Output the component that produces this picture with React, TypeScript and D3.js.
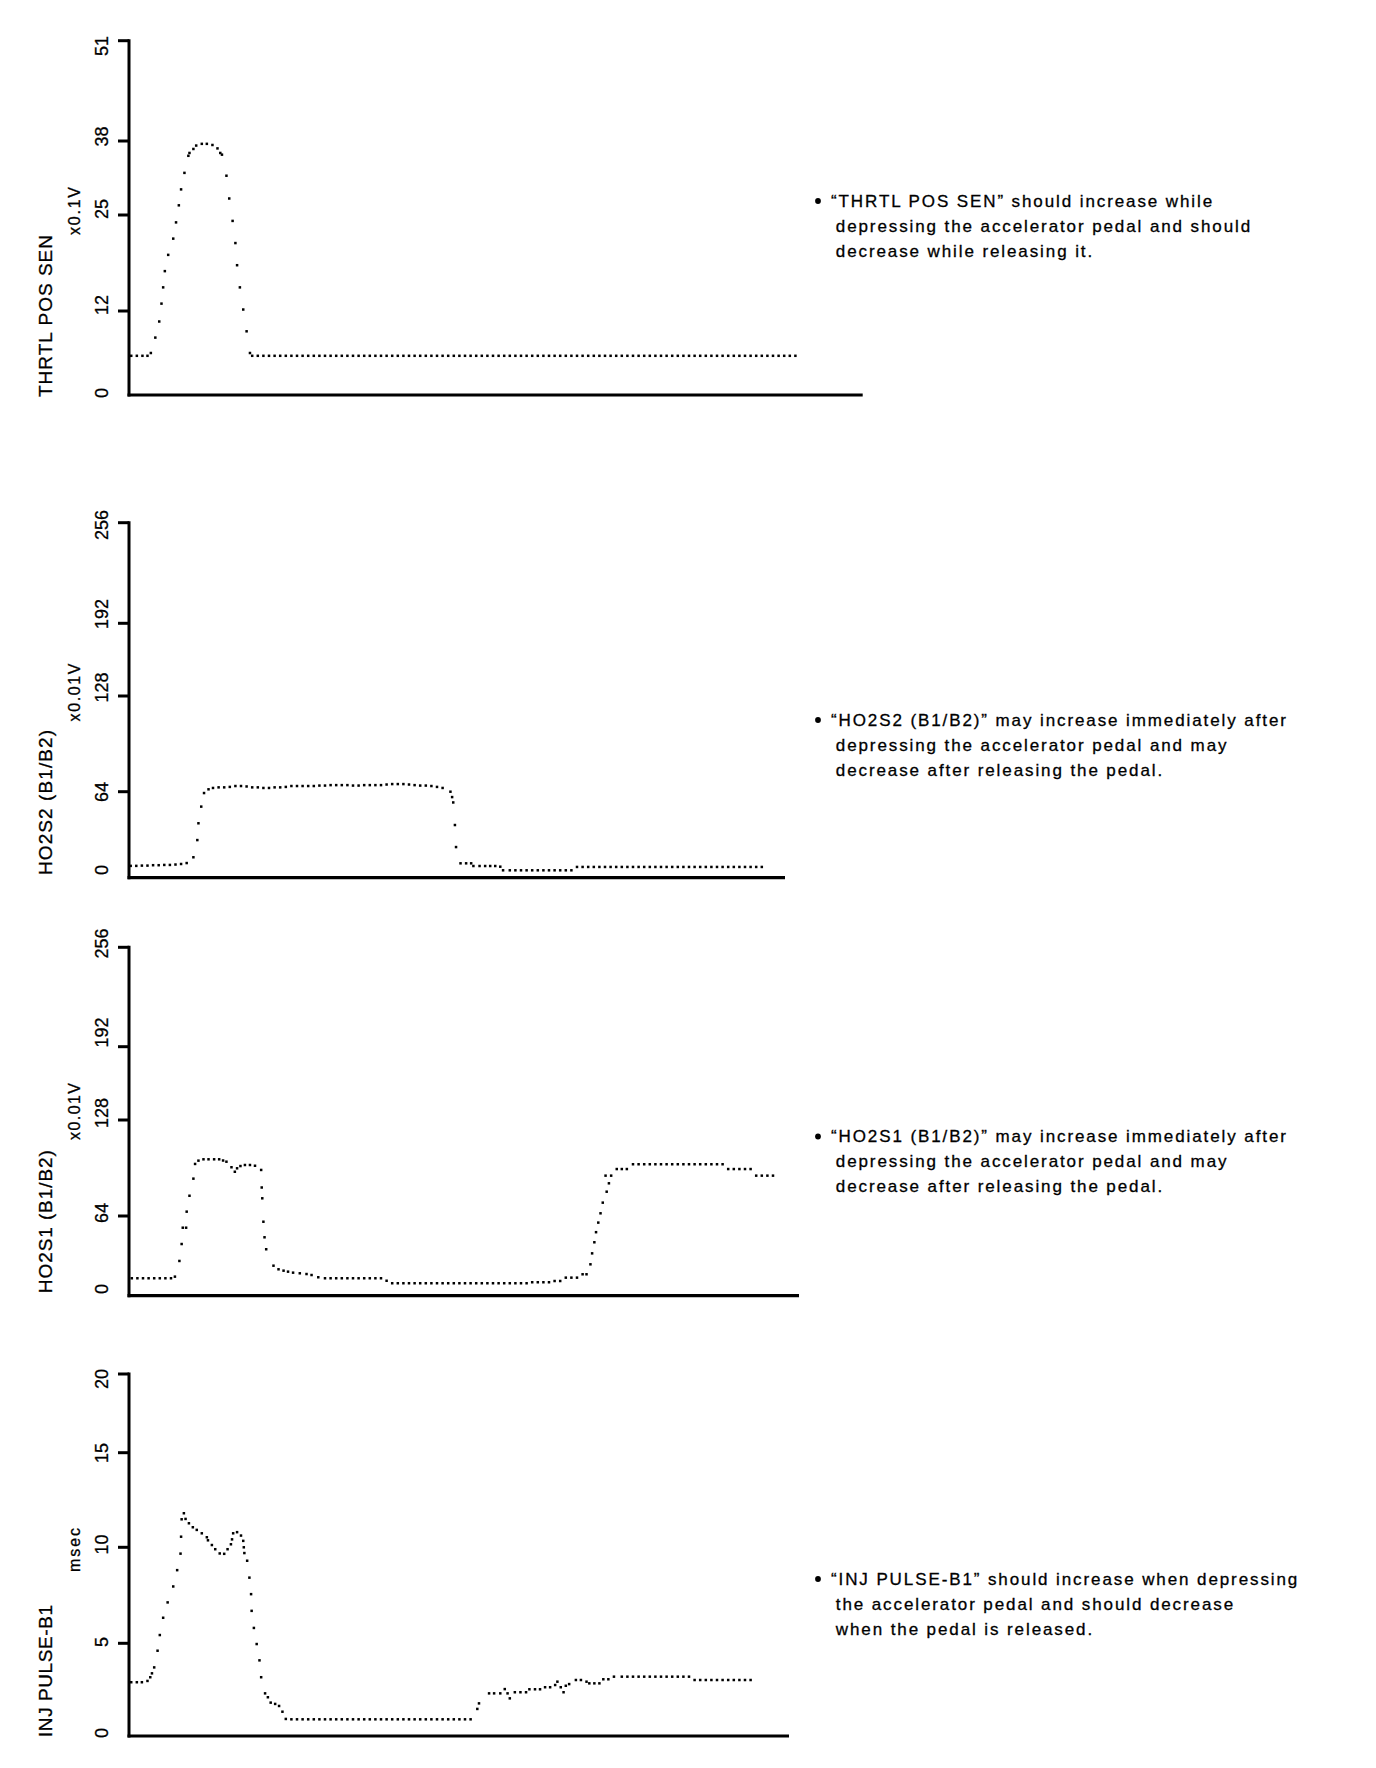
import React from 'react';
import * as d3 from 'd3';

// ---------------- DATA ----------------
// time in sample units, values in the panel's unit
const thrtlTicks = [0, 12, 25, 38, 51];
const ho2Ticks = [0, 64, 128, 192, 256];
const injTicks = [0, 5, 10, 15, 20];

const thrtlTime = [
  0.4, 1.4, 2.4, 3.3, 3.9, 4.7, 5.4, 5.8, 6.1, 6.4, 7.0, 7.9, 8.4, 8.9, 9.3, 9.9, 10.6, 10.8, 11.5, 12.0,
  13.0, 13.9, 14.9, 15.8, 16.3, 16.6, 17.4, 17.9, 18.5, 19.0, 19.3, 19.8, 20.4, 21.0, 21.6,
  22, 23, 24, 25, 26, 27, 28, 29, 30, 31, 32, 33, 34, 35,
  36, 37, 38, 39, 40, 41, 42, 43, 44, 45, 46, 47, 48, 49,
  50, 51, 52, 53, 54, 55, 56, 57, 58, 59, 60, 61, 62, 63,
  64, 65, 66, 67, 68, 69, 70, 71, 72, 73, 74, 75, 76, 77,
  78, 79, 80, 81, 82, 83, 84, 85, 86, 87, 88, 89, 90, 91,
  92, 93, 94, 95, 96, 97, 98, 99, 100, 101, 102, 103, 104, 105,
  106, 107, 108, 109, 110, 111, 112, 113, 114, 115, 116, 117, 118, 119,
];
const thrtlValue = [
  5.6, 5.6, 5.6, 5.6, 6.0, 8.2, 10.5, 13.0, 15.2, 17.4, 19.6, 21.8, 24.0, 26.7, 29.5, 32.4, 35.4, 35.9, 36.6, 37.2,
  37.5, 37.5, 37.3, 36.7, 35.9, 35.6, 31.9, 27.9, 24.2, 21.2, 18.2, 15.2, 12.2, 9.1, 6.0,
  5.6, 5.6, 5.6, 5.6, 5.6, 5.6, 5.6, 5.6, 5.6, 5.6, 5.6, 5.6, 5.6, 5.6,
  5.6, 5.6, 5.6, 5.6, 5.6, 5.6, 5.6, 5.6, 5.6, 5.6, 5.6, 5.6, 5.6, 5.6,
  5.6, 5.6, 5.6, 5.6, 5.6, 5.6, 5.6, 5.6, 5.6, 5.6, 5.6, 5.6, 5.6, 5.6,
  5.6, 5.6, 5.6, 5.6, 5.6, 5.6, 5.6, 5.6, 5.6, 5.6, 5.6, 5.6, 5.6, 5.6,
  5.6, 5.6, 5.6, 5.6, 5.6, 5.6, 5.6, 5.6, 5.6, 5.6, 5.6, 5.6, 5.6, 5.6,
  5.6, 5.6, 5.6, 5.6, 5.6, 5.6, 5.6, 5.6, 5.6, 5.6, 5.6, 5.6, 5.6, 5.6,
  5.6, 5.6, 5.6, 5.6, 5.6, 5.6, 5.6, 5.6, 5.6, 5.6, 5.6, 5.6, 5.6, 5.6,
];

const ho2s2Time = [
  0.3, 1.3, 2.3, 3.3, 4.3, 5.3, 6.3, 7.3, 8.3, 9.3, 10.3,
  11.5, 12.2, 12.4, 12.9, 13.4, 14.2,
  15, 16, 17, 18, 19, 20, 21, 22, 23, 24, 25, 26, 27, 28,
  29, 30, 31, 32, 33, 34, 35, 36, 37, 38, 39, 40, 41, 42,
  43, 44, 45, 46, 47, 48, 49, 50, 51, 52, 53, 54, 55, 56,
  57.4, 57.7, 57.9, 58.2, 58.4,
  59.2, 60.2, 61.1, 61.5, 62.6, 63.6, 64.5, 65.4, 66.3, 66.8,
  68, 69, 70, 71, 72, 73, 74, 75, 76, 77, 78, 79,
  80, 81, 82, 83, 84, 85, 86, 87, 88, 89, 90, 91, 92, 93, 94, 95, 96,
  97, 98, 99, 100, 101, 102, 103, 104, 105, 106, 107, 108, 109, 110, 111, 112, 113,
];
const ho2s2Value = [
  8.8, 8.8, 9.0, 9.0, 9.3, 9.3, 9.5, 9.5, 9.8, 10.2, 10.9,
  15.2, 28, 40.5, 52.9, 63, 65.6,
  66.5, 66.9, 66.9, 67.2, 67.8, 67.8, 67.5, 66.9, 66.9, 66.5, 66.5, 66.9, 66.9, 67.2,
  67.8, 67.8, 67.8, 67.8, 67.8, 68.1, 68.1, 68.4, 68.4, 68.4, 68.4, 68.1, 68.1, 68.4,
  68.4, 68.4, 68.4, 68.8, 69.1, 69.1, 69.1, 68.8, 68.4, 68.1, 68.1, 67.8, 67.2, 66.5,
  64, 60, 56, 39.2, 22.8,
  10.7, 10.7, 10.7, 8.7, 8.7, 8.7, 8.7, 8.7, 8.2, 5.5,
  5.5, 5.5, 5.5, 5.5, 5.5, 5.5, 5.5, 5.5, 5.5, 5.5, 5.5, 5.5,
  8.0, 8.0, 8.0, 8.0, 8.0, 8.0, 8.0, 8.0, 8.0, 8.0, 8.0, 8.0, 8.0, 8.0, 8.0, 8.0, 8.0,
  8.0, 8.0, 8.0, 8.0, 8.0, 8.0, 8.0, 8.0, 8.0, 8.0, 8.0, 8.0, 8.0, 8.0, 8.0, 8.0, 8.0,
];

const ho2s1Time = [
  0.5, 1.5, 2.5, 3.5, 4.5, 5.5, 6.5, 7.5, 8.2,
  9.0, 9.4, 9.6, 10.2, 10.3, 10.8, 11.5, 11.8, 12.4,
  13.3, 14.2, 15.2, 16.1, 16.8, 17.4, 18.3, 18.9, 19.3, 19.9, 20.7, 21.6, 22.5, 23.6,
  23.7, 23.8, 24.0, 24.2, 24.5, 25.8,
  26.7, 27.6, 28.4, 29.3, 30.5, 31.7, 32.6, 33.8,
  35, 36, 37, 38, 39, 40, 41, 42, 43, 44, 45, 46,
  47, 48, 49, 50, 51, 52, 53, 54, 55, 56, 57, 58, 59,
  60, 61, 62, 63, 64, 65, 66, 67, 68, 69, 70, 71,
  72, 73, 74, 75, 76, 77, 78, 79, 80, 81.0, 81.7,
  82.4, 82.7, 83.1, 83.4, 83.8, 84.2, 84.6, 85.3, 85.7, 85.1, 86.1, 87.1, 88.0, 88.9,
  90, 91, 92, 93, 94, 95, 96, 97, 98, 99, 100, 101, 102, 103, 104, 105, 106,
  107, 108, 109, 110, 111, 112, 113, 114, 115,
];
const ho2s1Value = [
  14, 14, 14, 14, 14, 14, 14, 14, 15.3,
  27.9, 41.5, 54.6, 54.6, 66.9, 77.5, 88.9, 98.7, 100.9,
  101.8, 101.8, 101.8, 101.8, 101, 100.2, 96.5, 93.5, 95.8, 97.3, 98, 98, 97.5, 94.7,
  83, 75.8, 59.4, 46.9, 37.3, 24.1,
  21.2, 20.1, 19.3, 18.5, 18.0, 17.4, 16.6, 14.8,
  14, 14, 14, 14, 14, 14, 14, 14, 14, 14, 14, 12,
  10, 10, 10, 10, 10, 10, 10, 10, 10, 10, 10, 10, 10,
  10, 10, 10, 10, 10, 10, 10, 10, 10, 10, 10, 10,
  10.8, 10.8, 10.8, 10.8, 11.8, 11.8, 14.5, 14.5, 14.5, 17.2, 17.2,
  25.2, 34, 42.9, 51, 58.7, 65.8, 72.9, 80.2, 85.8, 90.9, 90.9, 95.3, 95.3, 95.3,
  98.5, 98.5, 98.5, 98.5, 98.5, 98.5, 98.5, 98.5, 98.5, 98.5, 98.5, 98.5, 98.5, 98.5, 98.5, 98.5, 98.5,
  95.3, 95.3, 95.3, 95.3, 95.3, 90.9, 90.9, 90.9, 90.9,
];

const injTime = [
  0.4, 1.4, 2.3, 3.3, 3.8, 4.1, 4.5, 5.1, 5.5, 6.1,
  6.9, 7.9, 8.6, 9.2, 9.3, 9.4, 9.8, 10.1, 10.7, 11.4,
  12.1, 13.0, 13.9, 14.1, 14.8, 15.4, 16.2, 17.0, 17.6, 18.2,
  18.4, 18.6, 19.3, 20.0, 20.4, 20.5, 20.6, 21.1, 21.5, 21.8,
  21.9, 22.3, 22.8, 23.3, 23.6, 24.3, 24.8, 25.3, 26.1, 26.8,
  27.4, 28.0,
  29, 30, 31, 32, 33, 34, 35, 36, 37, 38, 39,
  40, 41, 42, 43, 44, 45, 46, 47, 48, 49, 50,
  51, 52, 53, 54, 55, 56, 57, 58, 59, 60, 61,
  62.2, 62.5,
  64.3, 65.2, 66.3, 67.1, 67.6, 68.0, 68.9, 69.9, 70.9, 71.5,
  72.5, 73.4, 74.3, 75.2, 76.1, 76.5, 77.1, 77.6, 78.0, 78.6,
  79.8, 80.7, 81.7, 82.2, 83.1, 84.0, 84.7, 85.6, 86.6,
  88, 89, 90, 91, 92, 93, 94, 95, 96, 97, 98, 99, 100,
  101, 102, 103, 104, 105, 106, 107, 108, 109, 110, 111,
];
const injValue = [
  2.9, 2.9, 2.9, 2.97, 3.17, 3.38, 3.7, 4.6, 5.43, 6.33,
  7.13, 7.96, 8.81, 9.67, 10.56, 11.48, 11.8, 11.5, 11.27, 11.06,
  10.92, 10.74, 10.53, 10.37, 10.12, 9.9, 9.68, 9.66, 9.9, 10.16,
  10.42, 10.74, 10.8, 10.62, 10.34, 10.0, 9.7, 9.3, 8.42, 7.56,
  6.69, 5.8, 4.96, 4.08, 3.17, 2.3, 2.09, 1.8, 1.73, 1.62,
  1.31, 0.92,
  0.9, 0.9, 0.9, 0.9, 0.9, 0.9, 0.9, 0.9, 0.9, 0.9, 0.9,
  0.9, 0.9, 0.9, 0.9, 0.9, 0.9, 0.9, 0.9, 0.9, 0.9, 0.9,
  0.9, 0.9, 0.9, 0.9, 0.9, 0.9, 0.9, 0.9, 0.9, 0.9, 0.9,
  1.46, 1.76,
  2.3, 2.3, 2.3, 2.53, 2.3, 2.03, 2.36, 2.36, 2.36, 2.52,
  2.52, 2.52, 2.63, 2.63, 2.75, 2.93, 2.63, 2.36, 2.71, 2.8,
  3.02, 3.02, 2.93, 2.84, 2.84, 2.84, 3.06, 3.06, 3.2,
  3.2, 3.2, 3.2, 3.2, 3.2, 3.2, 3.2, 3.2, 3.2, 3.2, 3.2, 3.2, 3.2,
  3.02, 3.02, 3.02, 3.02, 3.02, 3.02, 3.02, 3.02, 3.02, 3.02, 3.02,
];

const panelTitles = ['THRTL POS SEN', 'HO2S2 (B1/B2)', 'HO2S1 (B1/B2)', 'INJ PULSE-B1'];
const panelUnits = ['x0.1V', 'x0.01V', 'x0.01V', 'msec'];
const panelNotes = [
  ['\u201CTHRTL POS SEN\u201D should increase while', 'depressing the accelerator pedal and should', 'decrease while releasing it.'],
  ['\u201CHO2S2 (B1/B2)\u201D may increase immediately after', 'depressing the accelerator pedal and may', 'decrease after releasing the pedal.'],
  ['\u201CHO2S1 (B1/B2)\u201D may increase immediately after', 'depressing the accelerator pedal and may', 'decrease after releasing the pedal.'],
  ['\u201CINJ PULSE-B1\u201D should increase when depressing', 'the accelerator pedal and should decrease', 'when the pedal is released.'],
];

// ---------------- LAYOUT ----------------
const FONT = '"Liberation Sans", Arial, Helvetica, sans-serif';
const AXIS_X = 129;
const STEP = 5.6; // px per sample unit

const layouts = [
  { tickPx: [395, 311, 215, 141, 40.7], labelPx: [393, 305, 209, 136.5, 46], xEnd: 862.7, titleY: 316, titleLen: 162, unitY: 211, unitLen: 48, noteY: 206.5 },
  { tickPx: [877.7, 791.7, 696, 623.3, 522.7], labelPx: [870, 792, 687.5, 614, 525], xEnd: 785, titleY: 802.5, titleLen: 145, unitY: 692.5, unitLen: 58, noteY: 725.5 },
  { tickPx: [1295.7, 1216, 1120, 1046.7, 947.3], labelPx: [1289, 1213, 1113, 1032.5, 943.5], xEnd: 799, titleY: 1221.7, titleLen: 143, unitY: 1111.5, unitLen: 57, noteY: 1142 },
  { tickPx: [1736, 1643.3, 1547.3, 1452.7, 1374], labelPx: [1733, 1642, 1544.5, 1453, 1379], xEnd: 789, titleY: 1671, titleLen: 132, unitY: 1550, unitLen: 44, noteY: 1584.5 },
];

const series = [
  { time: thrtlTime, value: thrtlValue, ticks: thrtlTicks },
  { time: ho2s2Time, value: ho2s2Value, ticks: ho2Ticks },
  { time: ho2s1Time, value: ho2s1Value, ticks: ho2Ticks },
  { time: injTime, value: injValue, ticks: injTicks },
];

const xScale = d3.scaleLinear().domain([0, 100]).range([AXIS_X, AXIS_X + 100 * STEP]);

const TEXT_STROKE = 0.3;

function Panel({ idx }: { idx: number }) {
  const s = series[idx];
  const L = layouts[idx];
  const y = d3.scaleLinear().domain(s.ticks).range(L.tickPx);
  const yLabel = d3.scaleLinear().domain(s.ticks).range(L.labelPx);
  const y0 = y(s.ticks[0]);
  const yTop = y(s.ticks[s.ticks.length - 1]);
  const pts = d3.zip(s.time, s.value) as [number, number][];
  const dot = 2.5;
  return (
    <g>
      {/* y axis */}
      <line x1={AXIS_X} x2={AXIS_X} y1={yTop - 1.5} y2={y0 + 1.5} stroke="#000" strokeWidth={3} />
      {/* x axis */}
      <line x1={AXIS_X - 1.5} x2={L.xEnd} y1={y0} y2={y0} stroke="#000" strokeWidth={3.2} />
      {s.ticks.map((t, i) => (
        <g key={i}>
          {i > 0 && (
            <line x1={AXIS_X - 11} x2={AXIS_X} y1={y(t)} y2={y(t)} stroke="#000" strokeWidth={3} />
          )}
          <text
            transform={`translate(108, ${yLabel(t)}) rotate(-90)`}
            textAnchor="middle"
            fontSize={18}
            fontFamily={FONT}
            fill="#000"
            stroke="#000"
            strokeWidth={TEXT_STROKE}
          >
            {t}
          </text>
        </g>
      ))}
      {/* axis titles */}
      <text
        transform={`translate(52, ${L.titleY}) rotate(-90)`}
        textAnchor="middle"
        fontSize={19}
        fontFamily={FONT}
        textLength={L.titleLen}
        lengthAdjust="spacing"
        fill="#000"
        stroke="#000"
        strokeWidth={TEXT_STROKE}
      >
        {panelTitles[idx]}
      </text>
      <text
        transform={`translate(80, ${L.unitY}) rotate(-90)`}
        textAnchor="middle"
        fontSize={16}
        fontFamily={FONT}
        textLength={L.unitLen}
        lengthAdjust="spacing"
        fill="#000"
        stroke="#000"
        strokeWidth={TEXT_STROKE}
      >
        {panelUnits[idx]}
      </text>
      {/* data dots */}
      {pts.map(([t, v], i) => (
        <rect key={i} x={xScale(t) - dot / 2} y={y(v) - dot / 2} width={dot} height={dot} fill="#000" />
      ))}
      {/* note */}
      <circle cx={818} cy={L.noteY - 5.5} r={2.9} fill="#000" />
      {panelNotes[idx].map((line, i) => (
        <text
          key={i}
          x={i === 0 ? 831 : 835.8}
          y={L.noteY + i * 25}
          fontSize={17}
          fontFamily={FONT}
          letterSpacing={1.9}
          fill="#000"
          stroke="#000"
          strokeWidth={TEXT_STROKE}
        >
          {line}
        </text>
      ))}
    </g>
  );
}

export default function App() {
  return (
    <svg
      width={1376}
      height={1768}
      style={{ position: 'absolute', left: 0, top: 0, background: '#fff' }}
    >
      <rect width={1376} height={1768} fill="#fff" />
      {[0, 1, 2, 3].map((i) => (
        <Panel key={i} idx={i} />
      ))}
    </svg>
  );
}
